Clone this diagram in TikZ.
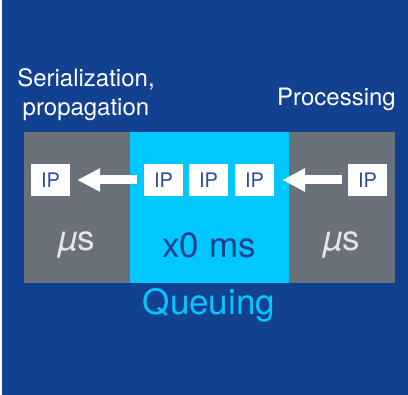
\documentclass[tikz,border=0pt]{standalone}
\usepackage{fontspec}
\setmainfont{TeX Gyre Heros}
\usetikzlibrary{arrows.meta}
\definecolor{bgblue}{HTML}{134191}
\definecolor{slate}{HTML}{6B717B}
\definecolor{qcyan}{HTML}{00C8FF}
\definecolor{ipblue}{HTML}{2A4F9F}
\definecolor{msblue}{HTML}{1B3F8F}
\definecolor{lightgray}{HTML}{E6E6E6}
\begin{document}
\begin{tikzpicture}[x=1pt,y=-1pt,
  ipbox/.style={fill=white,draw=none,minimum width=39pt,minimum height=32pt,inner sep=0pt,
    text=ipblue,font=\fontsize{20}{20}\selectfont},
  flow/.style={white,line width=9pt,-{Triangle[width=22pt,length=23pt]}},
  label/.style={text=white,font=\fontsize{24}{29}\selectfont,inner sep=0pt}]
\useasboundingbox (0,0) rectangle (408,395);
\fill[white] (0,0) rectangle (408,395);
\fill[bgblue] (1.5,0) rectangle (408,395);
% bands
\fill[slate] (24,132) rectangle (130,283);
\fill[qcyan] (130,132) rectangle (289,283);
\fill[slate] (289,132) rectangle (395,283);
% IP boxes
\node[ipbox] (l) at (50.5,180) {IP};
\node[ipbox] (m1) at (163.5,180) {IP};
\node[ipbox] (m2) at (208.5,180) {IP};
\node[ipbox] (m3) at (254.5,180) {IP};
\node[ipbox] (r) at (367.5,180) {IP};
% arrows
\draw[flow,shorten <=7pt,shorten >=7pt] (m1.west) -- (l.east);
\draw[flow,shorten <=6pt,shorten >=8pt] (r.west) -- (m3.east);
% band texts
\node[text=lightgray,font=\fontsize{35}{35}\selectfont] (t1) at (77,245) {{\itshape µ}s};
\node[text=msblue,font=\fontsize{35}{35}\selectfont] (t2) at (209,245) {x0 ms};
\node[text=lightgray,font=\fontsize{35}{35}\selectfont] (t3) at (342,245) {{\itshape µ}s};
% labels
\node[label,align=center] (ser) at (86,95) {Serialization,\\propagation};
\node[label,anchor=east] (proc) at (396,99) {Processing};
\node[text=qcyan,font=\fontsize{35}{35}\selectfont] (q) at (209,305) {Queuing};
\end{tikzpicture}
\end{document}
